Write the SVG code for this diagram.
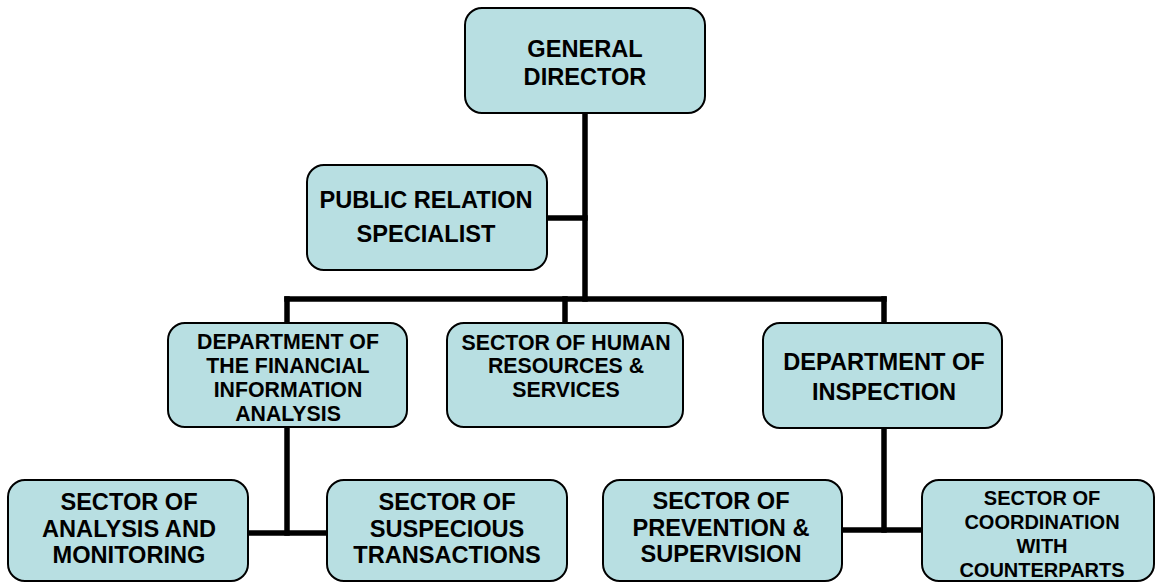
<svg xmlns="http://www.w3.org/2000/svg" width="1156" height="582" viewBox="0 0 1156 582">
  <style>
    .box { fill: #b8dfe2; stroke: #000; stroke-width: 2; }
    .wire { fill: none; stroke: #000; stroke-width: 5.5; stroke-linecap: square; }
    text { font-family: "Liberation Sans", Arial, sans-serif; font-weight: bold; fill: #000; text-anchor: middle; }
    .lg { font-size: 23.6px; }
    .md { font-size: 21.3px; }
    .sm { font-size: 20px; }
  </style>
  <rect width="1156" height="582" fill="#fff"/>

  <!-- connectors -->
  <g id="connectors">
    <path class="wire" d="M585 113 V299"/>
    <path class="wire" d="M548 218 H585"/>
    <path class="wire" d="M287 299 H884"/>
    <path class="wire" d="M287 299 V322"/>
    <path class="wire" d="M565 299 V322"/>
    <path class="wire" d="M884 299 V322"/>
    <path class="wire" d="M287 428 V533"/>
    <path class="wire" d="M249 533 H326"/>
    <path class="wire" d="M884 428 V530"/>
    <path class="wire" d="M843 530 H921"/>
  </g>

  <g id="general-director">
    <rect class="box" x="465" y="8" width="240" height="105" rx="17"/>
    <text class="lg" x="585" y="57">GENERAL</text>
    <text class="lg" x="585" y="85">DIRECTOR</text>
  </g>

  <g id="public-relation">
    <rect class="box" x="307" y="165" width="240" height="105" rx="17"/>
    <text class="lg" x="426" y="208">PUBLIC RELATION</text>
    <text class="lg" x="426" y="242">SPECIALIST</text>
  </g>

  <g id="dept-financial">
    <rect class="box" x="168" y="323" width="239" height="104" rx="17"/>
    <text class="md" x="288" y="349">DEPARTMENT OF</text>
    <text class="md" x="288" y="373">THE FINANCIAL</text>
    <text class="md" x="288" y="397">INFORMATION</text>
    <text class="md" x="288" y="421">ANALYSIS</text>
  </g>

  <g id="sector-hr">
    <rect class="box" x="447" y="323" width="236" height="104" rx="17"/>
    <text class="md" x="566" y="350">SECTOR OF HUMAN</text>
    <text class="md" x="566" y="373">RESOURCES &amp;</text>
    <text class="md" x="566" y="397">SERVICES</text>
  </g>

  <g id="dept-inspection">
    <rect class="box" x="763" y="323" width="239" height="105" rx="17"/>
    <text class="lg" x="884" y="370">DEPARTMENT OF</text>
    <text class="lg" x="884" y="400">INSPECTION</text>
  </g>

  <g id="sector-analysis">
    <rect class="box" x="8" y="480" width="240" height="101" rx="17"/>
    <text class="lg" x="129" y="510">SECTOR OF</text>
    <text class="lg" x="129" y="537">ANALYSIS AND</text>
    <text class="lg" x="129" y="563">MONITORING</text>
  </g>

  <g id="sector-suspicious">
    <rect class="box" x="327" y="480" width="240" height="101" rx="17"/>
    <text class="lg" x="447" y="510">SECTOR OF</text>
    <text class="lg" x="447" y="537">SUSPECIOUS</text>
    <text class="lg" x="447" y="563">TRANSACTIONS</text>
  </g>

  <g id="sector-prevention">
    <rect class="box" x="603" y="480" width="239" height="101" rx="17"/>
    <text class="lg" x="721" y="509">SECTOR OF</text>
    <text class="lg" x="721" y="536">PREVENTION &amp;</text>
    <text class="lg" x="721" y="562">SUPERVISION</text>
  </g>

  <g id="sector-coordination">
    <rect class="box" x="922" y="480" width="232" height="101" rx="17"/>
    <text class="sm" x="1042" y="505">SECTOR OF</text>
    <text class="sm" x="1042" y="529">COORDINATION</text>
    <text class="sm" x="1042" y="553">WITH</text>
    <text class="sm" x="1042" y="577">COUNTERPARTS</text>
  </g>
</svg>
